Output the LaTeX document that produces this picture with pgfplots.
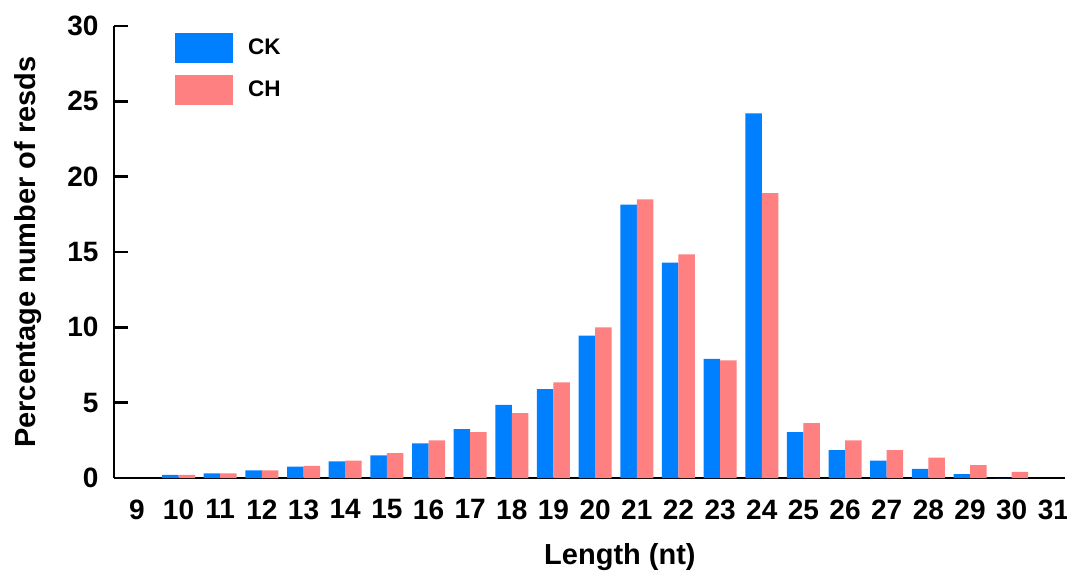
\documentclass[border=0pt]{standalone}
\usepackage{pgfplots}
\pgfplotsset{compat=1.18}
\usepackage{fontspec}
\setmainfont{Liberation Sans}
\definecolor{ckblue}{RGB}{0,128,255}
\definecolor{chpink}{RGB}{255,128,128}
\begin{document}
\begin{tikzpicture}
\begin{axis}[
  at={(0pt,0pt)}, anchor=south west,
  scale only axis, width=951pt, height=452pt,
  xmin=8.45, xmax=31.28, ymin=0, ymax=30,
  axis lines*=left, axis line style={line width=2.6pt},
  ybar=0pt, bar width=16.5pt,
  xtick={9,...,31}, ytick={0,5,...,30},
  x tick style={draw=none},
  y tick style={line width=2.6pt, black},
  major tick length=14pt,
  tick align=inside,
  xticklabel style={font=\fontsize{28}{32}\selectfont\bfseries, yshift=-18pt},
  yticklabel style={font=\fontsize{28}{32}\selectfont\bfseries, xshift=-12pt},
  /pgf/number format/assume math mode=true,
  xlabel={\fontsize{29}{34}\selectfont\bfseries Length (nt)},
  ylabel={\fontsize{29}{34}\selectfont\bfseries Percentage number of resds},
  xlabel style={at={(axis description cs:0.532,-0.175)}, anchor=center},
  ylabel style={at={(axis description cs:-0.0904,0.5)}, anchor=center, rotate=0},
  legend style={at={(rel axis cs:0.061,0.99)}, anchor=north west, draw=none, fill=none,
    font=\fontsize{22.5}{26}\selectfont\bfseries, row sep=12pt,
    /tikz/every odd column/.append style={column sep=13pt}},
  legend cell align=left,
]
\addplot[fill=ckblue, draw=none,
  legend image code/.code={\fill[ckblue] (0pt,-15pt) rectangle (58pt,15pt);}]
 coordinates {(10,0.2)(11,0.3)(12,0.5)(13,0.75)(14,1.1)(15,1.5)(16,2.3)(17,3.25)(18,4.85)(19,5.9)(20,9.45)(21,18.15)(22,14.3)(23,7.9)(24,24.2)(25,3.05)(26,1.85)(27,1.15)(28,0.6)(29,0.25)(30,0)};
\addplot[fill=chpink, draw=none,
  legend image code/.code={\fill[chpink] (0pt,-15pt) rectangle (58pt,15pt);}]
 coordinates {(10,0.2)(11,0.3)(12,0.5)(13,0.8)(14,1.15)(15,1.65)(16,2.5)(17,3.05)(18,4.3)(19,6.35)(20,10.0)(21,18.5)(22,14.85)(23,7.8)(24,18.9)(25,3.65)(26,2.5)(27,1.85)(28,1.35)(29,0.85)(30,0.4)};
\legend{CK,CH}
\end{axis}
\pgfresetboundingbox
\path (-114pt,-96pt) rectangle (953pt,478pt);
\end{tikzpicture}
\end{document}
